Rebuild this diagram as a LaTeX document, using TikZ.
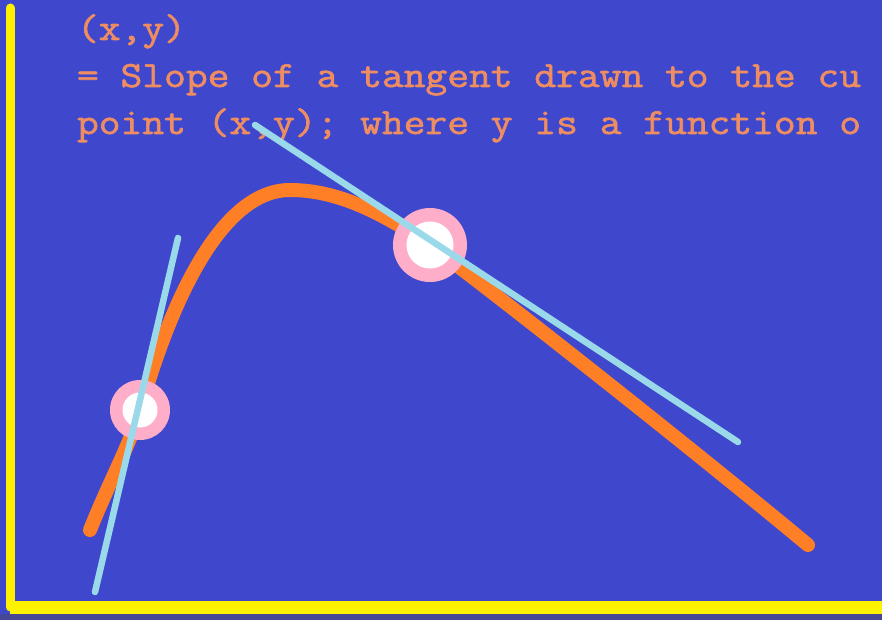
\documentclass[tikz,border=0pt]{standalone}
\usepackage{fontspec}
\newfontfamily\monob{Latin Modern Mono}[FakeBold=1.6]
\definecolor{bgblue}{RGB}{63,72,204}
\definecolor{axisyellow}{RGB}{255,242,0}
\definecolor{curveorange}{RGB}{255,127,39}
\definecolor{tanblue}{RGB}{153,217,234}
\definecolor{ringpink}{RGB}{255,174,201}
\definecolor{textorange}{RGB}{238,140,98}
\definecolor{edgeblue}{RGB}{70,72,150}
\begin{document}
\begin{tikzpicture}[x=1pt,y=-1pt,
  txt/.style={anchor=base west,inner sep=0pt,outer sep=0pt,text=textorange,xscale=1.143,
    font=\monob\fontsize{37}{48}\selectfont},
  axisline/.style={draw=axisyellow,line width=9pt,line cap=round},
  curveline/.style={draw=curveorange,line width=14pt,line cap=round},
  tanline/.style={draw=tanblue,line width=6.5pt,line cap=round},
  ring/.style={circle,fill=ringpink,inner sep=0pt,outer sep=0pt},
  core/.style={circle,fill=white,inner sep=0pt,outer sep=0pt}]
\useasboundingbox (0,0) rectangle (882,620);
\clip (0,0) rectangle (882,620);
\fill[bgblue] (0,0) rectangle (882,620);
\fill[edgeblue] (0,614) rectangle (882,620);
% text
\node[txt] (t1) at (77,40) {(x,y)};
\node[txt] (t2) at (77,87) {= Slope of a tangent drawn to the cu};
\node[txt] (t3) at (77,134) {point (x,y); where y is a function o};
% axes
\coordinate (ytop) at (10,8);
\coordinate (orig) at (10,607);
\coordinate (xend) at (890,607);
\draw[axisline] (ytop) -- (orig);
\draw[draw=axisyellow,line width=13pt] (orig) -- (xend);
% curve
\coordinate (c0) at (90,530);
\coordinate (p1) at (140,410);
\coordinate (peak) at (290,190);
\coordinate (p2) at (430,245);
\coordinate (c4) at (808,545);
\draw[curveline] (c0) .. controls (110,480) and (130,445) .. (p1)
  .. controls (165,322) and (215,190) .. (peak)
  .. controls (340,190) and (385,215) .. (p2)
  .. controls (500,297) and (700,455) .. (c4);
% touching points
\node[ring,minimum size=60pt] (r1) at (p1) {};
\node[core,minimum size=35pt] (w1) at (p1) {};
\node[ring,minimum size=74pt] (r2) at (p2) {};
\node[core,minimum size=47pt] (w2) at (p2) {};
% tangents
\coordinate (a1) at (95,592);
\coordinate (b1) at (178,238);
\coordinate (a2) at (255,125);
\coordinate (b2) at (738,442);
\draw[tanline] (a1) -- (b1);
\draw[tanline] (a2) -- (b2);
\end{tikzpicture}
\end{document}
